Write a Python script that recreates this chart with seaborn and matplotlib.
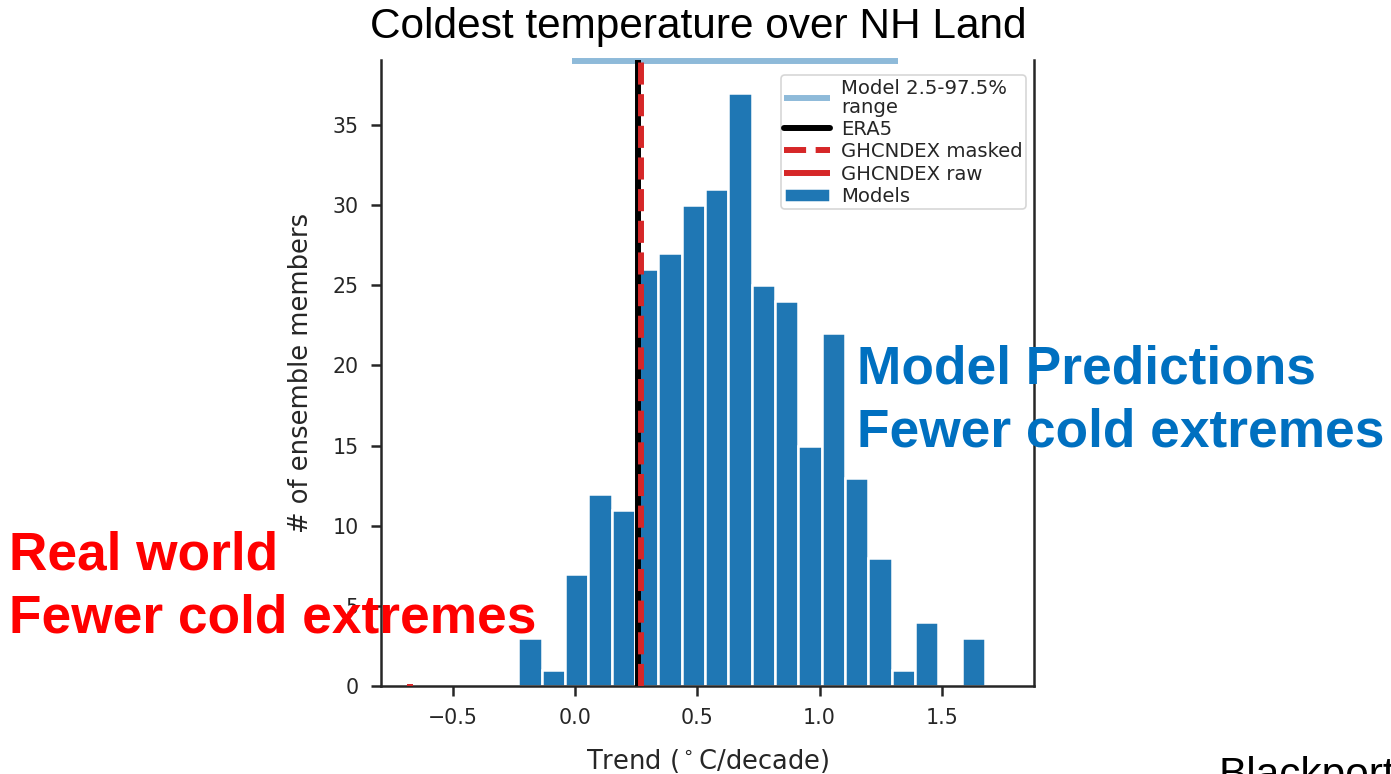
import numpy as np
import pandas as pd
import matplotlib
matplotlib.use("Agg")
import matplotlib.pyplot as plt
import seaborn as sns

# Ensemble-member histogram of the coldest-day trend over NH land
bin_start = -0.232
bin_width = 0.0954
member_counts = [3, 1, 7, 12, 11, 26, 27, 30, 31, 37, 25, 24, 15, 22, 13, 8, 1, 4, 0, 3]

# Observational and model-range trends (°C/decade)
era5_trend = 0.256
ghcndex_masked_trend = 0.272
ghcndex_raw_trend = -0.675
model_range = [-0.012, 1.32]

x_ticks = [-0.5, 0.0, 0.5, 1.0, 1.5]
y_ticks = [0, 5, 10, 15, 20, 25, 30, 35]

n_bins = len(member_counts)
bin_end = bin_start + bin_width * n_bins
bin_centers = bin_start + bin_width * (np.arange(n_bins) + 0.5)
df = pd.DataFrame({"trend": bin_centers, "count": member_counts})

sns.set_theme(style="ticks")
plt.rcParams["font.family"] = ["DejaVu Sans"]
ink = "#262626"

fig = plt.figure(figsize=(13.91, 7.74), dpi=100)
ax = fig.add_axes([0.2739, 0.1137, 0.4695, 0.8088])

ax.plot(model_range, [39.0, 39.0], color="tab:blue", alpha=0.5,
        lw=4.3, solid_capstyle="butt", clip_on=False,
        label="Model 2.5-97.5%\nrange")
ax.axvline(era5_trend, color="black", lw=4.3, label="ERA5", zorder=4)
ax.axvline(ghcndex_masked_trend, color="tab:red", lw=4.3, ls="--",
           label="GHCNDEX masked", zorder=5)
ax.plot([ghcndex_raw_trend, ghcndex_raw_trend], [0, 0.15], color="tab:red",
        lw=4.3, solid_capstyle="butt", clip_on=False, zorder=6,
        label="GHCNDEX raw")

sns.histplot(data=df, x="trend", weights="count", bins=n_bins,
             binrange=(bin_start, bin_end), ax=ax,
             color="#1f77b4", alpha=1, edgecolor="white", linewidth=1.8,
             label="Models", zorder=2)

ax.set_xlim(-0.793, 1.877)
ax.set_ylim(0, 39.05)
ax.set_xticks(x_ticks)
ax.set_yticks(y_ticks)
ax.set_xticklabels([f"{t:.1f}".replace("-", "\u2212") for t in x_ticks])

for side in ["left", "right", "bottom"]:
    ax.spines[side].set_linewidth(1.8)
    ax.spines[side].set_color(ink)
ax.spines["top"].set_visible(False)
ax.tick_params(axis="both", length=7.5, width=1.8, color=ink, pad=8.5,
               labelsize=14.8, labelcolor=ink)

ax.set_xlabel("Trend ($^\\circ$C/decade)", fontsize=18.5, color=ink, labelpad=13.5)
ax.set_ylabel("# of ensemble members", fontsize=18.5, color=ink, labelpad=13.5)

leg = ax.legend(loc="upper right", bbox_to_anchor=(0.9877, 0.976),
                borderaxespad=0, fontsize=14.1, handlelength=2.33,
                labelspacing=0.17, handletextpad=0.55, borderpad=0.18,
                frameon=True, fancybox=True)
leg.get_frame().set_edgecolor("#cccccc")
leg.get_frame().set_linewidth(1.2)
for t in leg.get_texts():
    t.set_color(ink)
    t.set_linespacing(1.0)

def fy(ypx):
    return 1 - ypx / 774

def fx(xpx):
    return xpx / 1391

arial = ["Liberation Sans", "DejaVu Sans"]
fig.text(fx(698), fy(38), "Coldest temperature over NH Land", ha="center",
         va="baseline", fontsize=30.5, family=arial, color="black")

red = "#FF0000"
fig.text(fx(9), fy(570), "Real world", ha="left", va="baseline",
         fontsize=38.3, fontweight="bold", family=arial, color=red)
fig.text(fx(9), fy(632.5), "Fewer cold extremes", ha="left", va="baseline",
         fontsize=38.3, fontweight="bold", family=arial, color=red)

blue = "#0070C0"
fig.text(fx(857), fy(383.5), "Model Predictions", ha="left", va="baseline",
         fontsize=38.3, fontweight="bold", family=arial, color=blue)
fig.text(fx(857), fy(446.5), "Fewer cold extremes", ha="left", va="baseline",
         fontsize=38.3, fontweight="bold", family=arial, color=blue)

fig.text(fx(1219), fy(787), "Blackport", ha="left", va="baseline",
         fontsize=30.5, family=arial, color="black")

fig.savefig("out.png", dpi=100)
